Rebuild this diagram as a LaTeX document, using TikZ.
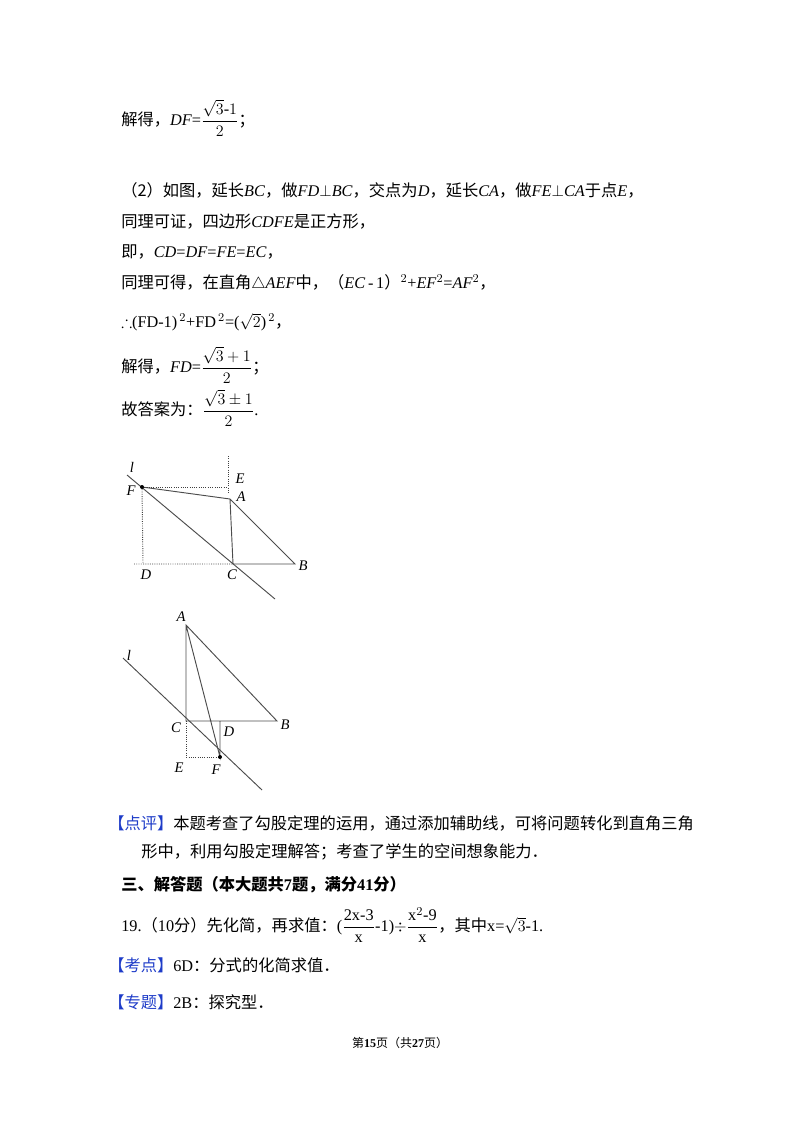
\documentclass[tikz,border=0pt]{standalone}
\usepackage{amsmath,amssymb}
\usepackage{fontspec}
\setmainfont{Liberation Serif}
\newfontfamily\zhf{Noto Sans CJK SC}
\newcommand{\zh}[1]{{\zhf #1}}
\definecolor{tagblue}{RGB}{30,60,200}
\begin{document}
\begin{tikzpicture}[x=0.75pt,y=-0.75pt,font=\fontsize{12.2}{14}\selectfont,
	txt/.style={anchor=west,inner sep=0pt},
	lbl/.style={font=\fontsize{11}{12}\selectfont\itshape,inner sep=1pt},
	seg/.style={draw=black!70,line width=0.7pt},
	aux/.style={draw=black!75,densely dotted,line width=0.7pt}]
	\useasboundingbox (0,0) rectangle (800,1132);
	% text lines
	\node[txt] (t1) at (121,118) {\zh{解得，}\textit{DF}=$\dfrac{\sqrt{3}\text{-}1}{2}$\zh{；}};
	\node[txt] (t2) at (121,190) {\zh{（2）如图，延长}\textit{BC}\zh{，做}\textit{FD}$\perp$\textit{BC}\zh{，交点为}\textit{D}\zh{，延长}\textit{CA}\zh{，做}\textit{FE}$\perp$\textit{CA}\zh{于点}\textit{E}\zh{，}};
	\node[txt] (t3) at (121,221) {\zh{同理可证，四边形}\textit{CDFE}\zh{是正方形，}};
	\node[txt] (t4) at (121,252) {\zh{即，}\textit{CD}=\textit{DF}=\textit{FE}=\textit{EC}\zh{，}};
	\node[txt] (t5) at (121,283) {\zh{同理可得，在直角}$\triangle$\textit{AEF}\zh{中，（}\textit{EC}\,-\,1\zh{）}$^2$+\textit{EF}$^2$=\textit{AF}$^2$\zh{，}};
	\node[txt] (t6) at (121,322) {$\therefore$(FD-1)$^{\,2}$+FD$^{\,2}$=($\sqrt{2}$)$^{\,2}$\zh{，}};
	\node[txt] (t7) at (121,365) {\zh{解得，}\textit{FD}=$\dfrac{\sqrt{3}+1}{2}$\zh{；}};
	\node[txt] (t8) at (121,408) {\zh{故答案为：}$\dfrac{\sqrt{3}\pm1}{2}$.};
	% figure 1
	\coordinate (F1) at (142,487);
	\coordinate (E1) at (228,487);
	\coordinate (A1) at (230,499);
	\coordinate (C1) at (233,564);
	\coordinate (B1) at (295,564);
	\coordinate (D1) at (143,564);
	\draw[seg] (127,475) -- (275,599);
	\draw[seg] (F1) -- (A1) -- (C1) -- (B1) -- (A1);
	\draw[aux] (F1) -- (E1) (228,456) -- (228,493);
	\draw[aux] (F1) -- (D1) (134,564) -- (C1);
	\fill (F1) circle (2);
	\node[lbl] (l1) at (132,467) {l};
	\node[lbl] at (131,491) {F};
	\node[lbl] at (240,479) {E};
	\node[lbl] at (241,497) {A};
	\node[lbl] at (303,566) {B};
	\node[lbl] at (232,575) {C};
	\node[lbl] at (146,575) {D};
	% figure 2
	\coordinate (A2) at (186,625);
	\coordinate (C2) at (186,721);
	\coordinate (B2) at (277,721);
	\coordinate (D2) at (220,721);
	\coordinate (F2) at (220,757);
	\coordinate (E2) at (186,757);
	\draw[seg] (123,658) -- (262,790);
	\draw[seg] (A2) -- (C2) -- (B2) -- cycle (A2) -- (F2) -- (D2);
	\draw[aux] (C2) -- (E2) -- (F2);
	\fill (F2) circle (2);
	\node[lbl] at (129,655) {l};
	\node[lbl] at (181,617) {A};
	\node[lbl] at (176,728) {C};
	\node[lbl] at (285,725) {B};
	\node[lbl] at (229,732) {D};
	\node[lbl] at (179,768) {E};
	\node[lbl] at (216,770) {F};
	% text below
	\node[txt] (p1) at (108,823) {\zh{\textcolor{tagblue}{【点评】}本题考查了勾股定理的运用，通过添加辅助线，可将问题转化到直角三角}};
	\node[txt] (p2) at (141,852) {\zh{形中，利用勾股定理解答；考查了学生的空间想象能力．}};
	\node[txt] (p3) at (121,885) {\zh{\bfseries 三、解答题（本大题共}\textbf{7}\zh{\bfseries 题，满分}\textbf{41}\zh{\bfseries 分）}};
	\node[txt] (p4) at (121,925) {19.\zh{（}10\zh{分）先化简，再求值：}($\dfrac{\text{2x-3}}{\text{x}}$-1)$\div\dfrac{\text{x}^2\text{-9}}{\text{x}}$\zh{，其中}x=$\sqrt{3}$-1.};
	\node[txt] (p5) at (108,965) {\zh{\textcolor{tagblue}{【考点】}}6D\zh{：分式的化简求值．}};
	\node[txt] (p6) at (108,1002) {\zh{\textcolor{tagblue}{【专题】}}2B\zh{：探究型．}};
	\node (foot) at (400,1043) {\fontsize{9}{11}\selectfont\zh{第}\textbf{15}\zh{页（共}\textbf{27}\zh{页）}};
\end{tikzpicture}
\end{document}
